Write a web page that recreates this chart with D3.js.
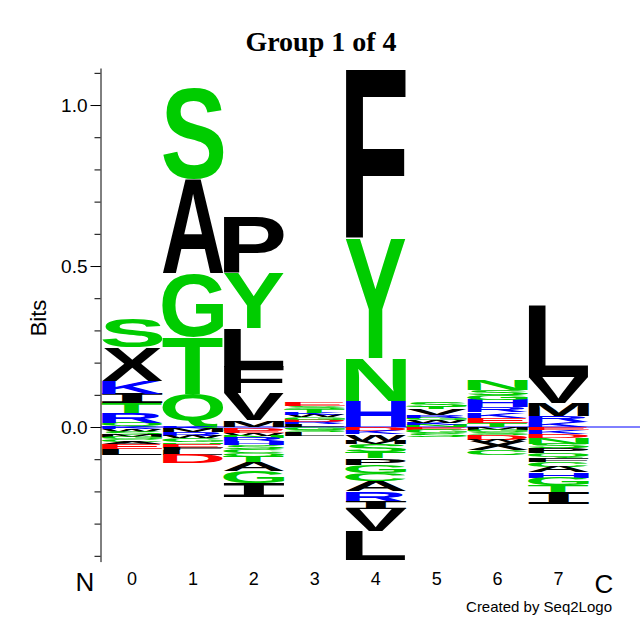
<!DOCTYPE html>
<html><head><meta charset="utf-8">
<script src="https://cdn.jsdelivr.net/npm/d3@7"></script>
<style>body{margin:0;background:#fff}svg{display:block}</style>
</head><body><svg id="c" width="640" height="640"></svg>
<script>
const positions = ["0","1","2","3","4","5","6","7"];
// positive stacks, bottom -> top: [letter, bits]
const pos0 = [["Q",0.013],["R",0.031],["T",0.030],["I",0.030],["K",0.040],["X",0.103],["S",0.088]];
const pos1 = [["Q",0.104],["T",0.176],["G",0.197],["A",0.293],["S",0.282]];
const pos2 = [["M",0.021],["V",0.083],["F",0.083],["L",0.120],["Y",0.171],["P",0.175]];
const pos3 = [["L",0.009],["R",0.008],["D",0.006],["G",0.008],["W",0.006],["K",0.008],["T",0.010],["S",0.009],["E",0.010]];
const pos4 = [["H",0.081],["N",0.134],["Y",0.369],["F",0.530]];
const pos5 = [["N",0.006],["K",0.007],["W",0.008],["G",0.008],["R",0.008],["V",0.018],["T",0.008],["S",0.014]];
const pos6 = [["T",0.013],["E",0.016],["K",0.017],["R",0.016],["H",0.022],["G",0.016],["S",0.016],["N",0.032]];
const pos7 = [["K",0.016],["R",0.018],["M",0.041],["V",0.079],["L",0.221]];
// negative stacks, from zero downward: [letter, bits]
const neg0 = [["K",0.006],["W",0.008],["S",0.010],["M",0.006],["G",0.008],["C",0.008],["A",0.008],["E",0.014],["L",0.020]];
const neg1 = [["K",0.007],["M",0.010],["R",0.010],["W",0.008],["G",0.012],["N",0.005],["E",0.012],["F",0.008],["L",0.015],["D",0.026]];
const neg2 = [["K",0.005],["D",0.008],["E",0.007],["W",0.007],["N",0.007],["R",0.010],["H",0.013],["S",0.013],["C",0.012],["Q",0.010],["T",0.018],["A",0.028],["G",0.036],["I",0.042]];
const neg3 = [["G",0.008],["S",0.007],["L",0.013]];
const neg4 = [["D",0.011],["K",0.012],["W",0.019],["M",0.010],["S",0.026],["T",0.019],["P",0.021],["G",0.026],["C",0.024],["A",0.031],["R",0.033],["I",0.023],["V",0.068],["L",0.090]];
const neg5 = [["E",0.008],["G",0.012],["S",0.010]];
const neg6 = [["M",0.008],["G",0.008],["S",0.008],["D",0.016],["W",0.006],["X",0.026],["C",0.015]];
const neg7 = [["E",0.009],["K",0.013],["D",0.012],["N",0.018],["S",0.014],["P",0.016],["Q",0.014],["F",0.013],["C",0.014],["A",0.018],["H",0.017],["G",0.023],["T",0.023],["I",0.034]];
const posStacks = [pos0,pos1,pos2,pos3,pos4,pos5,pos6,pos7];
const negStacks = [neg0,neg1,neg2,neg3,neg4,neg5,neg6,neg7];
const majorTicks = [0, 0.5, 1.0];
const minorTicks = [-0.4,-0.3,-0.2,-0.1,0,0.1,0.2,0.3,0.4,0.5,0.6,0.7,0.8,0.9,1.0,1.1];
const greenLetters = "SGTYQNC", blueLetters = "KRH", redLetters = "DE";

const svg = d3.select("#c");
const y = d3.scaleLinear().domain([-0.418, 1.115]).range([561.6, 68]);
const x = d3.scaleBand().domain(positions).range([101.5, 589]).paddingInner(0).paddingOuter(0);
const color = ch => greenLetters.includes(ch) ? "#00cc00" : blueLetters.includes(ch) ? "#0000ff" : redLetters.includes(ch) ? "#ff0000" : "#000000";

const FONT = "'Liberation Sans', Arial, Helvetica, sans-serif";
const MONO = "'DejaVu Sans Mono', 'Liberation Mono', monospace";
const letterFont = ch => ch === "I" ? MONO : FONT;
const ctx = document.createElement("canvas").getContext("2d");
const mcache = {};
function metrics(ch){
  if(!mcache[ch]){ ctx.font = "bold 100px " + letterFont(ch); const m = ctx.measureText(ch);
    mcache[ch] = {l:-m.actualBoundingBoxLeft, r:m.actualBoundingBoxRight, t:-m.actualBoundingBoxAscent, b:m.actualBoundingBoxDescent}; }
  return mcache[ch];
}

// zero line
svg.append("line").attr("x1",101).attr("x2",640).attr("y1",y(0)).attr("y2",y(0))
  .attr("stroke","#0000ff").attr("stroke-width",1);

const g = svg.append("g");
function drawLetter(ch, x0, w, yTop, yBot){
  const h = yBot - yTop; if(h <= 0) return;
  const m = metrics(ch);
  const sx = w/(m.r-m.l), sy = h/(m.b-m.t);
  g.append("text").text(ch)
    .attr("font-family", letterFont(ch)).attr("font-weight","bold").attr("font-size","100px")
    .attr("fill", color(ch))
    .attr("transform", `translate(${x0},${yTop}) scale(${sx},${sy}) translate(${-m.l},${-m.t})`);
}
positions.forEach((p,i)=>{
  const x0 = x(p), w = x.bandwidth();
  let cum = 0;
  posStacks[i].forEach(([ch,v])=>{ drawLetter(ch, x0, w, y(cum+v), y(cum)); cum += v; });
  cum = 0;
  negStacks[i].forEach(([ch,v])=>{ drawLetter(ch, x0, w, y(-cum), y(-(cum+v))); cum += v; });
});

// y axis
const axisG = svg.append("g").attr("transform","translate(100.5,0)");
axisG.call(d3.axisLeft(y).tickValues(minorTicks).tickSize(6).tickSizeOuter(0).tickFormat(""));
const majG = svg.append("g").attr("transform","translate(100.5,0)");
majG.call(d3.axisLeft(y).tickValues(majorTicks).tickSize(10).tickSizeOuter(0).tickFormat(d3.format(".1f")));
majG.select(".domain").remove();
svg.selectAll(".tick text").attr("font-family",FONT).attr("font-size","19px").attr("fill","#000");
svg.selectAll(".domain, .tick line").attr("stroke","#000");

// x labels
svg.append("g").selectAll("text").data(positions).join("text")
  .attr("x", d=>x(d)+x.bandwidth()/2).attr("y",585).attr("text-anchor","middle")
  .attr("font-family",FONT).attr("font-size","18px").text(d=>d);
svg.append("text").attr("x",85).attr("y",591).attr("text-anchor","middle")
  .attr("font-family",FONT).attr("font-size","26px").text("N");
svg.append("text").attr("x",604).attr("y",593).attr("text-anchor","middle")
  .attr("font-family",FONT).attr("font-size","26px").text("C");

svg.append("text").attr("transform","translate(46,318) rotate(-90)").attr("text-anchor","middle")
  .attr("font-family",FONT).attr("font-size","22px").text("Bits");

svg.append("text").attr("x",321).attr("y",51).attr("text-anchor","middle")
  .attr("font-family","'Liberation Serif', 'Times New Roman', serif").attr("font-weight","bold")
  .attr("font-size","28px").text("Group 1 of 4");

svg.append("text").attr("x",612).attr("y",612).attr("text-anchor","end")
  .attr("font-family",FONT).attr("font-size","15px").text("Created by Seq2Logo");
</script></body></html>
